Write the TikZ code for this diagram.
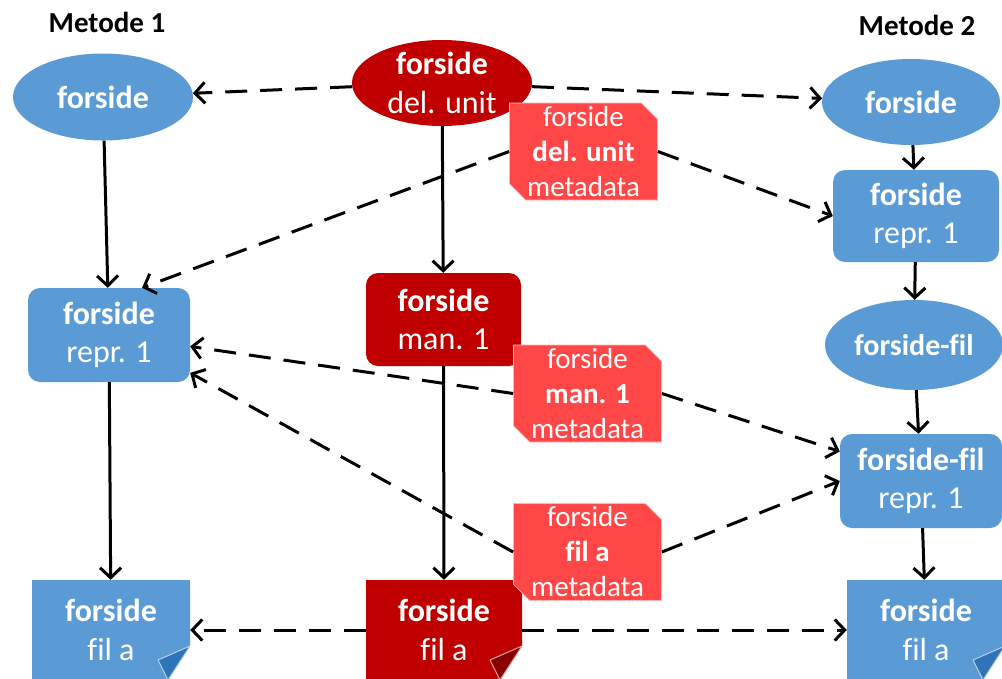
\documentclass[tikz,border=0pt]{standalone}
\usepackage{fontspec}
\setmainfont{Carlito}[Ligatures=NoCommon]
\usetikzlibrary{shapes.geometric,shapes.misc,arrows.meta}

\definecolor{ofblue}{HTML}{5B9BD5}
\definecolor{ofblueDark}{HTML}{2F74B8}
\definecolor{ofred}{HTML}{C00000}
\definecolor{ofredDark}{HTML}{8A0000}
\definecolor{noteRed}{HTML}{FF4747}
\definecolor{noteEdge}{HTML}{FFB4B4}

\begin{document}
\begin{tikzpicture}[x=1pt,y=1pt,
  txt/.style={text=white, align=center, inner sep=0pt,
    font=\fontsize{32}{38.5}\selectfont},
  lbl/.style={txt},
  ell/.style={ellipse, inner sep=0pt, minimum width=#1},
  blueell/.style={ell=180, fill=ofblue, minimum height=87},
  redell/.style={ell=180, fill=ofred, minimum height=86},
  bluebox/.style={txt, rectangle, rounded corners=12pt, fill=ofblue,
    minimum width=162, minimum height=94},
  redbox/.style={txt, rectangle, rounded corners=12pt, fill=ofred,
    minimum width=155, minimum height=93},
  note/.style={txt, font=\fontsize{29}{35}\selectfont,
    chamfered rectangle, chamfered rectangle corners={north east,south west},
    chamfered rectangle xsep=13pt, chamfered rectangle angle=45,
    fill=noteRed, draw=noteEdge, line width=0.8pt,
    minimum width=148, minimum height=97},
  docnode/.style n args={2}{txt, rectangle, minimum width=158, minimum height=100,
    path picture={
      \fill[#1] (path picture bounding box.north west)
        -- (path picture bounding box.north east)
        -- ([yshift=34pt]path picture bounding box.south east)
        -- ([xshift=-22pt]path picture bounding box.south east)
        -- (path picture bounding box.south west) -- cycle;
      \filldraw[fill=#2, draw=white!65!#2, line width=1pt, line join=round]
        ([yshift=34pt]path picture bounding box.south east)
        -- ([xshift=-32pt,yshift=20pt]path picture bounding box.south east)
        -- ([xshift=-22pt]path picture bounding box.south east) -- cycle;
    }},
  title/.style={font=\bfseries\fontsize{29}{34}\selectfont, inner sep=0pt},
  link/.style={line width=3pt, -{Straight Barb[length=10pt,width=21pt]}},
  dlink/.style={link, dash pattern=on 22pt off 13pt},
]
\useasboundingbox (0,0) rectangle (1002,-678);
\clip (0,0) rectangle (1002,-678);
\fill[white] (0,0) rectangle (1002,-678);

% column headings
\node[title] (m1) at (107,-22) {Metode 1};
\node[title] (m2) at (917,-25) {Metode 2};

% method 1 (left column)
\node[blueell, label={[lbl]center:\textbf{forside}}] (LE) at (103,-97) {};
\node[bluebox] (LR) at (109,-335) {\textbf{forside}\\repr. 1};
\node[docnode={ofblue}{ofblueDark}] (LD) at (111,-630) {\textbf{forside}\\fil a};

% centre column
\node[redell, label={[lbl]center:{\textbf{forside}\\del. unit}}] (CE) at (442,-83) {};
\node[redbox] (CM) at (443.5,-319.5) {\textbf{forside}\\man. 1};
\node[docnode={ofred}{ofredDark}, minimum width=156] (CD) at (444,-630) {\textbf{forside}\\fil a};

% metadata notes
\node[note] (N1) at (583.5,-151.5) {forside\\\textbf{del. unit}\\metadata};
\node[note] (N2) at (587.5,-393.5) {forside\\\textbf{man. 1}\\metadata};
\node[note] (N3) at (587.5,-552) {forside\\\textbf{fil a}\\metadata};

% method 2 (right column)
\node[blueell, label={[lbl]center:\textbf{forside}}, minimum width=178, minimum height=86] (RE) at (911,-102) {};
\node[bluebox, minimum width=166, minimum height=92] (RR) at (916,-216) {\textbf{forside}\\repr. 1};
\node[blueell, label={[lbl,font=\fontsize{30}{36}\selectfont]center:\textbf{forside-fil}}, minimum width=178, minimum height=90] (RF) at (914,-345) {};
\node[bluebox, minimum width=162, minimum height=94] (RFR) at (921,-481) {\textbf{forside-fil}\\repr. 1};
\node[docnode={ofblue}{ofblueDark}] (RD) at (926,-630) {\textbf{forside}\\fil a};

% solid derivations
\draw[link] (CE) -- (CM);
\draw[link] (CM) -- (CD);
\draw[link] (LE) -- (LR);
\draw[link] (LR) -- (LD);
\draw[link] (RE) -- (RR);
\draw[link] (RR) -- (RF);
\draw[link] (RF) -- (RFR);
\draw[link] (RFR) -- (RD);

% dashed metadata links
\draw[dlink] (CE) -- (LE);
\draw[dlink] (CE) -- (RE);
\draw[dlink] (N1.west) -- (LR.55);
\draw[dlink] (N1.east) -- (RR.west);
\draw[dlink] (N2.west) -- (LR.-8);
\draw[dlink] (N2.east) -- (RFR.160);
\draw[dlink] (N3.west) -- (LR.-25);
\draw[dlink] (N3.east) -- (RFR.180);
\draw[dlink] (CD) -- (LD);
\draw[dlink] (CD) -- (RD);
\end{tikzpicture}
\end{document}
